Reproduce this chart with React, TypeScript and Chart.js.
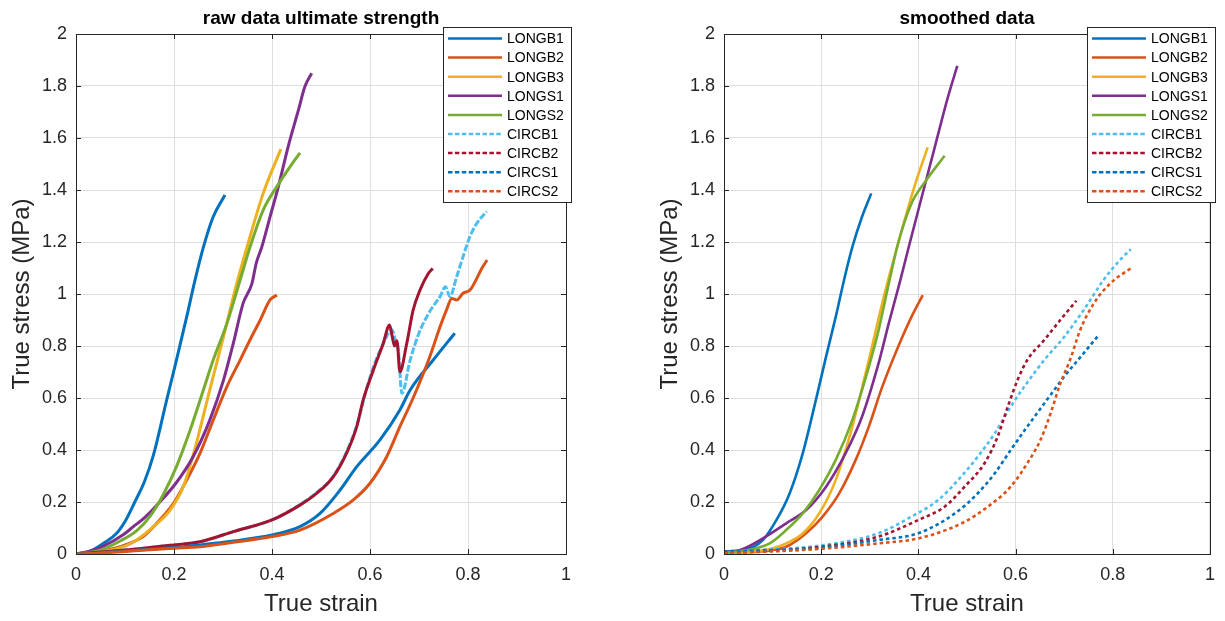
import React, { useEffect, useRef } from "react";
import { Chart, registerables } from "chart.js";

Chart.register(...registerables);

type Pt = [number, number];

const seriesNames = ["LONGB1", "LONGB2", "LONGB3", "LONGS1", "LONGS2", "CIRCB1", "CIRCB2", "CIRCS1", "CIRCS2"];
const seriesColors = ["#0072BD", "#D95319", "#EDB120", "#7E2F8E", "#77AC30", "#4DBEEE", "#A2142F", "#0072BD", "#D95319"];
const xTickValues = [0, 0.2, 0.4, 0.6, 0.8, 1];
const yTickValues = [0, 0.2, 0.4, 0.6, 0.8, 1, 1.2, 1.4, 1.6, 1.8, 2];
const chartTitles = ["raw data ultimate strength", "smoothed data"];
const xAxisTitle = "True strain";
const yAxisTitle = "True stress (MPa)";

// ---- raw data (strain, stress) ----
const rawLONGB1: Pt[] = [[0, 0], [0.03, 0.012], [0.056, 0.041], [0.083, 0.08], [0.103, 0.135], [0.12, 0.2], [0.14, 0.28], [0.158, 0.38], [0.185, 0.592], [0.205, 0.746], [0.226, 0.913], [0.243, 1.054], [0.26, 1.18], [0.28, 1.297], [0.304, 1.381]];
const rawLONGB2: Pt[] = [[0, 0], [0.04, 0.008], [0.09, 0.028], [0.137, 0.067], [0.171, 0.131], [0.199, 0.195], [0.226, 0.285], [0.253, 0.387], [0.28, 0.515], [0.308, 0.644], [0.335, 0.746], [0.355, 0.823], [0.376, 0.9], [0.396, 0.977], [0.41, 0.996]];
const rawLONGB3: Pt[] = [[0, 0], [0.05, 0.008], [0.1, 0.03], [0.124, 0.054], [0.158, 0.105], [0.192, 0.169], [0.219, 0.259], [0.242, 0.4], [0.273, 0.631], [0.301, 0.836], [0.328, 1.04], [0.355, 1.22], [0.382, 1.387], [0.418, 1.557]];
const rawLONGS1: Pt[] = [[0, 0], [0.03, 0.012], [0.056, 0.03], [0.097, 0.075], [0.117, 0.105], [0.14, 0.14], [0.171, 0.2], [0.205, 0.275], [0.239, 0.374], [0.273, 0.515], [0.301, 0.669], [0.321, 0.81], [0.341, 0.964], [0.359, 1.04], [0.368, 1.12], [0.379, 1.18], [0.396, 1.297], [0.413, 1.413], [0.433, 1.567], [0.454, 1.708], [0.467, 1.797], [0.481, 1.849]];
const rawLONGS2: Pt[] = [[0, 0], [0.05, 0.015], [0.09, 0.05], [0.124, 0.09], [0.151, 0.145], [0.178, 0.228], [0.205, 0.336], [0.233, 0.477], [0.26, 0.631], [0.28, 0.746], [0.308, 0.887], [0.335, 1.054], [0.355, 1.18], [0.382, 1.323], [0.41, 1.413], [0.437, 1.49], [0.457, 1.543]];
const rawCIRCB1: Pt[] = [[0, 0], [0.05, 0.008], [0.1, 0.015], [0.2, 0.035], [0.253, 0.047], [0.321, 0.086], [0.4, 0.131], [0.457, 0.19], [0.491, 0.236], [0.525, 0.3], [0.552, 0.392], [0.573, 0.495], [0.593, 0.635], [0.607, 0.72], [0.625, 0.8], [0.645, 0.862], [0.652, 0.82], [0.658, 0.78], [0.665, 0.618], [0.682, 0.746], [0.7, 0.85], [0.716, 0.913], [0.726, 0.945], [0.743, 0.99], [0.754, 1.028], [0.763, 0.99], [0.777, 1.067], [0.79, 1.144], [0.804, 1.221], [0.818, 1.272], [0.838, 1.317]];
const rawCIRCB2: Pt[] = [[0, 0], [0.05, 0.008], [0.1, 0.015], [0.2, 0.035], [0.253, 0.047], [0.321, 0.086], [0.4, 0.131], [0.457, 0.188], [0.491, 0.233], [0.525, 0.297], [0.552, 0.387], [0.573, 0.49], [0.586, 0.592], [0.607, 0.708], [0.627, 0.81], [0.64, 0.881], [0.645, 0.84], [0.65, 0.8], [0.655, 0.82], [0.661, 0.701], [0.675, 0.81], [0.688, 0.938], [0.702, 1.015], [0.719, 1.079], [0.728, 1.098]];
const rawCIRCS1: Pt[] = [[0, 0], [0.05, 0.005], [0.1, 0.012], [0.2, 0.025], [0.253, 0.035], [0.321, 0.05], [0.4, 0.073], [0.457, 0.105], [0.498, 0.156], [0.539, 0.246], [0.573, 0.336], [0.62, 0.438], [0.661, 0.554], [0.682, 0.631], [0.729, 0.746], [0.773, 0.849]];
const rawCIRCS2: Pt[] = [[0, 0], [0.05, 0.004], [0.1, 0.01], [0.2, 0.022], [0.253, 0.028], [0.321, 0.045], [0.4, 0.067], [0.457, 0.092], [0.525, 0.156], [0.566, 0.208], [0.6, 0.272], [0.634, 0.374], [0.661, 0.49], [0.688, 0.6], [0.722, 0.759], [0.743, 0.874], [0.756, 0.938], [0.767, 0.983], [0.777, 0.977], [0.79, 1.003], [0.804, 1.015], [0.818, 1.06], [0.828, 1.098], [0.839, 1.131]];

// ---- smoothed data (strain, stress) ----
const smLONGB1: Pt[] = [[0, 0.01], [0.04, 0.015], [0.08, 0.054], [0.108, 0.131], [0.135, 0.233], [0.162, 0.387], [0.189, 0.592], [0.21, 0.759], [0.23, 0.913], [0.247, 1.054], [0.264, 1.18], [0.284, 1.297], [0.303, 1.387]];
const smLONGB2: Pt[] = [[0, 0.005], [0.06, 0.008], [0.1, 0.015], [0.128, 0.028], [0.169, 0.08], [0.203, 0.144], [0.237, 0.233], [0.271, 0.362], [0.298, 0.49], [0.325, 0.64], [0.359, 0.8], [0.386, 0.913], [0.409, 0.996]];
const smLONGB3: Pt[] = [[0, 0.005], [0.06, 0.01], [0.1, 0.022], [0.128, 0.041], [0.162, 0.079], [0.196, 0.156], [0.23, 0.285], [0.264, 0.49], [0.298, 0.746], [0.329, 0.99], [0.359, 1.2], [0.393, 1.42], [0.419, 1.564]];
const smLONGS1: Pt[] = [[0, 0.005], [0.033, 0.015], [0.08, 0.06], [0.128, 0.118], [0.169, 0.169], [0.21, 0.259], [0.25, 0.387], [0.284, 0.528], [0.318, 0.733], [0.339, 0.887], [0.363, 1.054], [0.38, 1.18], [0.407, 1.374], [0.434, 1.567], [0.461, 1.759], [0.48, 1.877]];
const smLONGS2: Pt[] = [[0, 0.005], [0.05, 0.015], [0.094, 0.041], [0.128, 0.092], [0.162, 0.156], [0.196, 0.246], [0.23, 0.362], [0.264, 0.515], [0.298, 0.72], [0.318, 0.86], [0.339, 1.04], [0.359, 1.2], [0.386, 1.349], [0.414, 1.432], [0.454, 1.532]];
const smCIRCB1: Pt[] = [[0, 0.01], [0.1, 0.018], [0.2, 0.033], [0.318, 0.08], [0.386, 0.144], [0.441, 0.208], [0.482, 0.285], [0.522, 0.374], [0.557, 0.464], [0.59, 0.567], [0.618, 0.644], [0.659, 0.746], [0.7, 0.835], [0.74, 0.938], [0.781, 1.054], [0.815, 1.131], [0.837, 1.172]];
const smCIRCB2: Pt[] = [[0, 0.005], [0.1, 0.013], [0.2, 0.028], [0.318, 0.067], [0.4, 0.131], [0.454, 0.182], [0.495, 0.259], [0.536, 0.349], [0.563, 0.451], [0.584, 0.567], [0.604, 0.669], [0.624, 0.746], [0.659, 0.823], [0.692, 0.9], [0.725, 0.974]];
const smCIRCS1: Pt[] = [[0, 0.01], [0.1, 0.015], [0.2, 0.025], [0.318, 0.054], [0.4, 0.08], [0.475, 0.156], [0.522, 0.233], [0.557, 0.31], [0.59, 0.4], [0.624, 0.49], [0.659, 0.579], [0.7, 0.682], [0.74, 0.772], [0.771, 0.842]];
const smCIRCS2: Pt[] = [[0, 0.003], [0.1, 0.01], [0.2, 0.02], [0.318, 0.041], [0.4, 0.06], [0.489, 0.118], [0.543, 0.182], [0.59, 0.259], [0.624, 0.349], [0.651, 0.438], [0.672, 0.541], [0.692, 0.656], [0.712, 0.746], [0.733, 0.862], [0.761, 0.964], [0.795, 1.041], [0.837, 1.099]];

const rawSeries: Pt[][] = [rawLONGB1, rawLONGB2, rawLONGB3, rawLONGS1, rawLONGS2, rawCIRCB1, rawCIRCB2, rawCIRCS1, rawCIRCS2];
const smSeries: Pt[][] = [smLONGB1, smLONGB2, smLONGB3, smLONGS1, smLONGS2, smCIRCB1, smCIRCB2, smCIRCS1, smCIRCS2];

const FONT = "'Liberation Sans', Arial, Helvetica, sans-serif";
const AXIS_COLOR = "#262626";
const LEGEND_DASH = [4.5, 2.4];

type PanelCfg = {
  title: string;
  series: Pt[][];
  width: number;
  padLeft: number;
  padRight: number;
  lineWidth: number;
  dashFor: (i: number) => number[];
};

function makeChart(canvas: HTMLCanvasElement, cfg: PanelCfg) {
  const datasets = cfg.series.map((pts, i) => ({
    label: seriesNames[i],
    data: pts.map(([x, y]) => ({ x, y })),
    borderColor: seriesColors[i],
    backgroundColor: seriesColors[i],
    borderWidth: cfg.lineWidth,
    borderDash: cfg.dashFor(i),
    pointRadius: 0,
    fill: false,
    cubicInterpolationMode: "monotone" as const,
    order: cfg.series.length - i,
  }));

  const framePlugin = {
    id: "matlabFrame",
    afterDatasetsDraw(chart: any) {
      const { ctx, chartArea: a, scales } = chart;
      ctx.save();
      ctx.strokeStyle = AXIS_COLOR;
      ctx.lineWidth = 1;
      ctx.setLineDash([]);
      ctx.strokeRect(a.left + 0.5, a.top + 0.5, a.right - a.left, a.bottom - a.top);
      const tl = 5;
      ctx.beginPath();
      for (const v of xTickValues) {
        const px = Math.round(scales.x.getPixelForValue(v)) + 0.5;
        ctx.moveTo(px, a.bottom);
        ctx.lineTo(px, a.bottom - tl);
        ctx.moveTo(px, a.top);
        ctx.lineTo(px, a.top + tl);
      }
      for (const v of yTickValues) {
        const py = Math.round(scales.y.getPixelForValue(v)) + 0.5;
        ctx.moveTo(a.left, py);
        ctx.lineTo(a.left + tl, py);
        ctx.moveTo(a.right, py);
        ctx.lineTo(a.right - tl, py);
      }
      ctx.stroke();

      // title
      ctx.fillStyle = "#000";
      ctx.font = `bold 19px ${FONT}`;
      ctx.textAlign = "center";
      ctx.textBaseline = "middle";
      ctx.fillText(cfg.title, (a.left + a.right) / 2, 19);

      // legend
      const lw = 128;
      const lh = 175;
      const lx = a.right + 5 - lw;
      const ly = a.top - 7;
      ctx.fillStyle = "#fff";
      ctx.fillRect(lx, ly, lw, lh);
      ctx.strokeStyle = AXIS_COLOR;
      ctx.lineWidth = 1;
      ctx.strokeRect(lx + 0.5, ly + 0.5, lw, lh);
      ctx.font = `14px ${FONT}`;
      ctx.textAlign = "left";
      ctx.textBaseline = "middle";
      seriesNames.forEach((name, i) => {
        const yy = ly + 11.5 + i * 19.1;
        ctx.beginPath();
        ctx.strokeStyle = seriesColors[i];
        ctx.lineWidth = 2.5;
        ctx.setLineDash(i >= 5 ? LEGEND_DASH : []);
        ctx.moveTo(lx + 5, yy);
        ctx.lineTo(lx + 59, yy);
        ctx.stroke();
        ctx.setLineDash([]);
        ctx.fillStyle = "#000";
        ctx.fillText(name, lx + 64, yy + 1);
      });
      ctx.restore();
    },
  };

  const fmt = (v: any) => String(Math.round(Number(v) * 10) / 10);

  return new Chart(canvas, {
    type: "line",
    data: { datasets },
    plugins: [framePlugin],
    options: {
      animation: false,
      responsive: false,
      devicePixelRatio: 1,
      layout: { padding: { left: cfg.padLeft, right: cfg.padRight, top: 34, bottom: 0 } },
      plugins: {
        legend: { display: false },
        tooltip: { enabled: false },
        title: { display: false },
      },
      scales: {
        x: {
          type: "linear",
          min: 0,
          max: 1,
          afterFit: (s: any) => {
            s.height = 67;
          },
          ticks: {
            stepSize: 0.2,
            autoSkip: false,
            maxRotation: 0,
            padding: 10,
            color: AXIS_COLOR,
            font: { family: FONT, size: 18 },
            callback: fmt,
          },
          grid: { color: "#DFDFDF", lineWidth: 1, drawTicks: false },
          border: { display: false },
          title: {
            display: true,
            text: xAxisTitle,
            color: AXIS_COLOR,
            font: { family: FONT, size: 24 },
            padding: { top: 0, bottom: 2.6 },
          },
        },
        y: {
          type: "linear",
          min: 0,
          max: 2,
          afterFit: (s: any) => {
            s.width = 76;
          },
          ticks: {
            stepSize: 0.2,
            autoSkip: false,
            padding: 9,
            color: AXIS_COLOR,
            font: { family: FONT, size: 18 },
            callback: fmt,
          },
          grid: { color: "#DFDFDF", lineWidth: 1, drawTicks: false },
          border: { display: false },
          title: {
            display: true,
            text: yAxisTitle,
            color: AXIS_COLOR,
            font: { family: FONT, size: 24 },
            padding: { top: 7.6, bottom: 0 },
          },
        },
      },
    },
  } as any);
}

function Panel({ cfg }: { cfg: PanelCfg }) {
  const ref = useRef<HTMLCanvasElement | null>(null);
  useEffect(() => {
    if (!ref.current) return;
    const chart = makeChart(ref.current, cfg);
    return () => chart.destroy();
  }, [cfg]);
  return (
    <canvas
      ref={ref}
      width={cfg.width}
      height={621}
      style={{ display: "block", width: cfg.width, height: 621 }}
    />
  );
}

const leftCfg: PanelCfg = {
  title: chartTitles[0],
  series: rawSeries,
  width: 612,
  padLeft: 0,
  padRight: 46,
  lineWidth: 3,
  dashFor: (i) => (i === 5 ? [7, 2] : []),
};

const rightCfg: PanelCfg = {
  title: chartTitles[1],
  series: smSeries,
  width: 613,
  padLeft: 36,
  padRight: 11,
  lineWidth: 2.6,
  dashFor: (i) => (i >= 5 ? [3.5, 3] : []),
};

export default function App() {
  return (
    <div
      style={{
        position: "fixed",
        left: 0,
        top: 0,
        width: 1225,
        height: 621,
        background: "#fff",
        display: "flex",
        flexDirection: "row",
      }}
    >
      <Panel cfg={leftCfg} />
      <Panel cfg={rightCfg} />
    </div>
  );
}
